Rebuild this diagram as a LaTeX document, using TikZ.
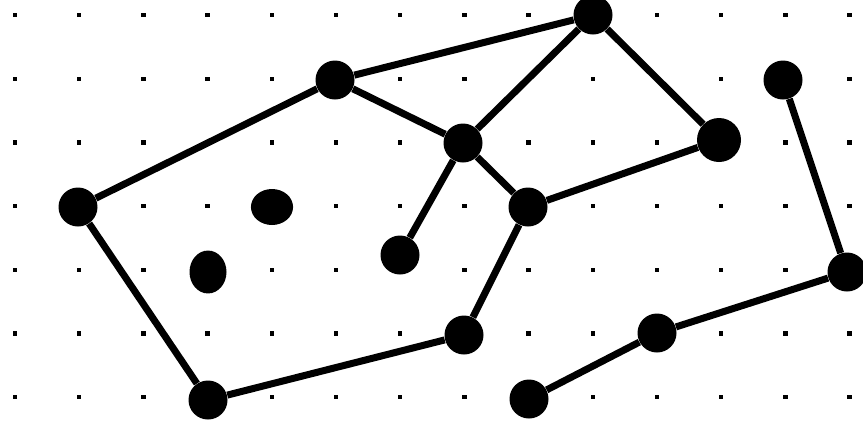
\documentclass[tikz,border=0pt]{standalone}
\begin{document}
\begin{tikzpicture}[x=0.5pt,y=-0.5pt,
  vtx/.style={circle,fill=black,inner sep=0pt,minimum size=19.5pt},
  edge/.style={line width=3.5pt},
  gdot/.style={fill=black,inner sep=0pt,minimum size=2.2pt}]
\useasboundingbox (0,0) rectangle (863,425);
\fill[white] (0,0) rectangle (863,425);
\foreach \i in {0,...,13}{
  \foreach \j in {0,...,6}{
    \node[gdot] (g\i-\j) at ({15+64.2*\i},{15+63.7*\j}) {};
  }
}
\node[vtx] (A) at (78,207) {};
\node[vtx] (B) at (335,80) {};
\node[vtx] (C) at (593,15) {};
\node[vtx] (D) at (463,143) {};
\node[vtx,minimum size=22pt] (E) at (719,140) {};
\node[vtx] (F) at (783,80) {};
\node[vtx] (G) at (528,207) {};
\node[vtx] (H) at (400,255) {};
\node[circle,fill=black,inner sep=0pt,minimum size=18pt,xscale=1.17] (I) at (272,207) {};
\node[circle,fill=black,inner sep=0pt,minimum size=18.5pt,yscale=1.16] (J) at (208,272) {};
\node[vtx] (K) at (464,335) {};
\node[vtx] (L) at (208,400) {};
\node[vtx] (M) at (529,399) {};
\node[vtx] (N) at (657,333) {};
\node[vtx] (O) at (847,272) {};
\foreach \a/\b in {A/B,B/C,B/D,C/D,C/E,D/G,D/H,E/G,G/K,K/L,L/A,F/O,O/N,N/M}{
  \draw[edge] (\a) -- (\b);
}
\end{tikzpicture}
\end{document}
